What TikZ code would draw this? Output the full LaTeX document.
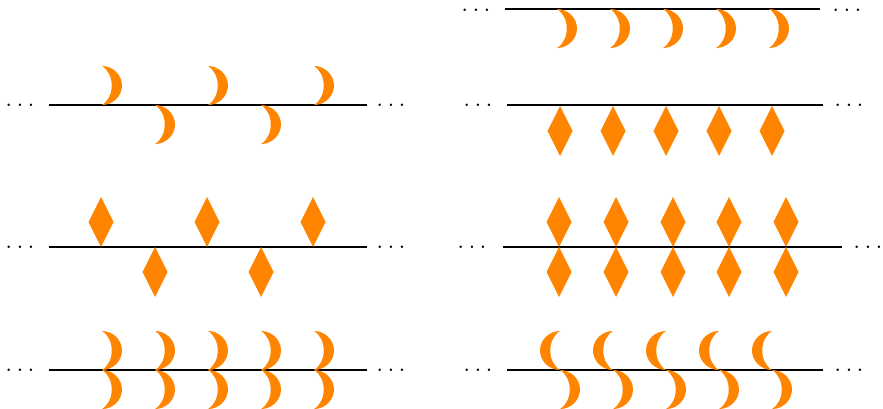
\documentclass[tikz,border=0pt]{standalone}
\usepackage{xcolor}
\usepackage{tikz}
\definecolor{korange}{HTML}{FF8400}

\tikzset{
  gap/.style={font=\Large, inner sep=0pt, anchor=base},
  track/.style={line width=0.7pt, black},
  moonup/.pic={\fill[korange] (0,0) .. controls (10.5,0) and (20,-8.5) .. (20,-19.5)
      .. controls (20,-30.5) and (10.5,-39) .. (0,-39)
      .. controls (13,-31) and (13,-8) .. (0,0) -- cycle;},
  moondown/.pic={\fill[korange] (0,0) .. controls (10.5,0) and (20,8.5) .. (20,19.5)
      .. controls (20,30.5) and (10.5,39) .. (0,39)
      .. controls (13,31) and (13,8) .. (0,0) -- cycle;},
  moonupleft/.pic={\fill[korange] (0,0) .. controls (-10.5,0) and (-20,-8.5) .. (-20,-19.5)
      .. controls (-20,-30.5) and (-10.5,-39) .. (0,-39)
      .. controls (-13,-31) and (-13,-8) .. (0,0) -- cycle;},
  kiteup/.pic={\fill[korange] (0,0) -- (12.5,-25) -- (0,-50) -- (-12.5,-25) -- cycle;},
  kitedown/.pic={\fill[korange] (0,0) -- (12.5,25) -- (0,50) -- (-12.5,25) -- cycle;}
}

\begin{document}
\begin{tikzpicture}[x=0.02cm, y=-0.02cm]
\useasboundingbox (0,0) rectangle (883,409);

% left column, row 1: alternating moons
\node[gap] (la1) at (20,106.5) {$\ldots$};
\node[gap] (la2) at (391,106.5) {$\ldots$};
\coordinate (la1e) at (49,105);
\coordinate (la2w) at (367,105);
\draw[track] (la1e) -- (la2w);
\foreach \px in {102,208,314} \pic at (\px,105) {moonup};
\foreach \px in {155,261} \pic at (\px,105) {moondown};

% left column, row 2: alternating kites
\node[gap] (lb1) at (20,248.5) {$\ldots$};
\node[gap] (lb2) at (391,248.5) {$\ldots$};
\coordinate (lb1e) at (49,247);
\coordinate (lb2w) at (367,247);
\draw[track] (lb1e) -- (lb2w);
\foreach \px in {101,207,313} \pic at (\px,247) {kiteup};
\foreach \px in {155,261} \pic at (\px,247) {kitedown};

% left column, row 3: paired moons
\node[gap] (lc1) at (20,371.5) {$\ldots$};
\node[gap] (lc2) at (391,371.5) {$\ldots$};
\coordinate (lc1e) at (49,370);
\coordinate (lc2w) at (367,370);
\draw[track] (lc1e) -- (lc2w);
\foreach \px in {102,155,208,261,314} {
  \pic at (\px,370) {moonup};
  \pic at (\px,370) {moondown};
}

% right column, row 1: moons hanging below
\node[gap] (ra1) at (476,11.5) {$\ldots$};
\node[gap] (ra2) at (847,11.5) {$\ldots$};
\coordinate (ra1e) at (505,9);
\coordinate (ra2w) at (820,9);
\draw[track] (ra1e) -- (ra2w);
\foreach \px in {557,610,663,716,769} \pic at (\px,9) {moondown};

% right column, row 2: kites hanging below
\node[gap] (rb1) at (478,106.5) {$\ldots$};
\node[gap] (rb2) at (849,106.5) {$\ldots$};
\coordinate (rb1e) at (507,105);
\coordinate (rb2w) at (823,105);
\draw[track] (rb1e) -- (rb2w);
\foreach \px in {560,613,666,719,772} \pic at (\px,106) {kitedown};

% right column, row 3: kites on both sides
\node[gap] (rc1) at (472,248.5) {$\ldots$};
\node[gap] (rc2) at (868,248.5) {$\ldots$};
\coordinate (rc1e) at (503,247);
\coordinate (rc2w) at (842,247);
\draw[track] (rc1e) -- (rc2w);
\foreach \px in {559,616,673,729,786} {
  \pic at (\px,247) {kiteup};
  \pic at (\px,247) {kitedown};
}

% right column, row 4: opposed moons
\node[gap] (rd1) at (478,371.5) {$\ldots$};
\node[gap] (rd2) at (849,371.5) {$\ldots$};
\coordinate (rd1e) at (507,370);
\coordinate (rd2w) at (823,370);
\draw[track] (rd1e) -- (rd2w);
\foreach \px in {560,613,666,719,772} {
  \pic at (\px,370) {moonupleft};
  \pic at (\px,370) {moondown};
}
\end{tikzpicture}
\end{document}
